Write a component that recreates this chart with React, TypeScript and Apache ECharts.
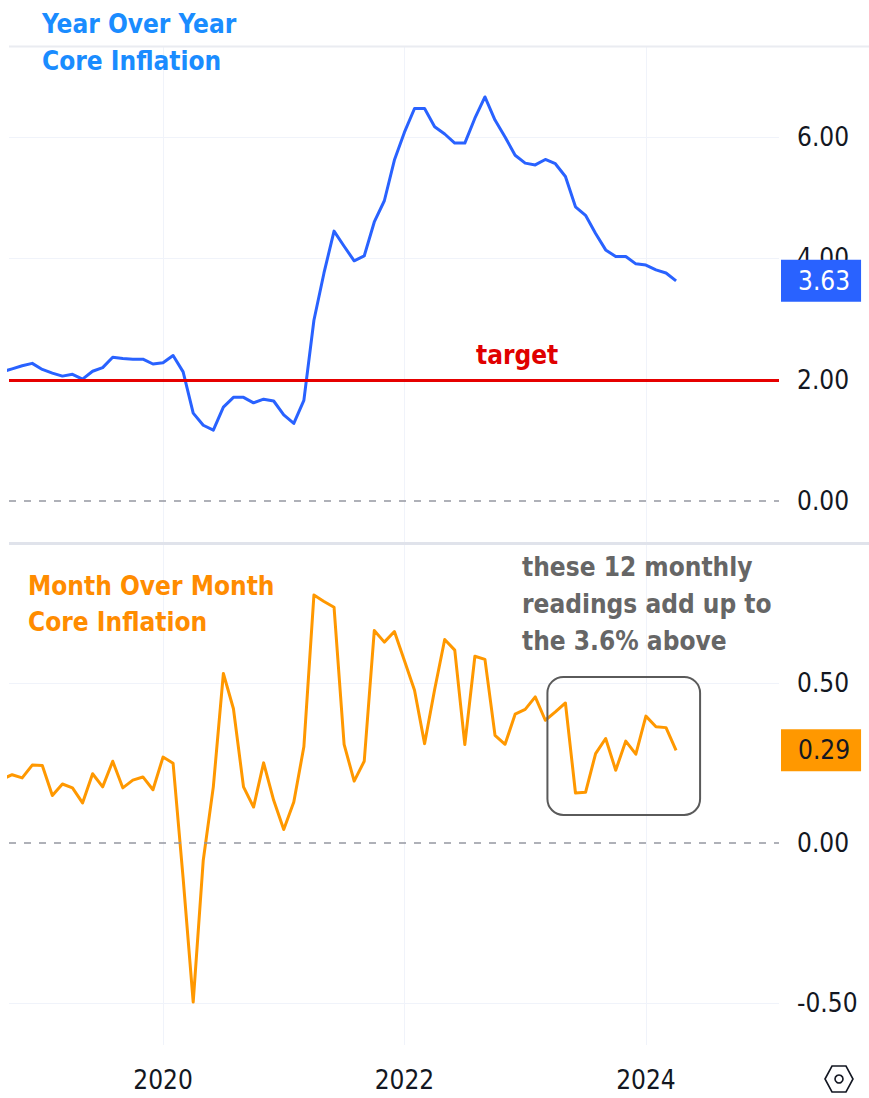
import React, { useEffect, useRef } from "react";
import * as echarts from "echarts";

// ---------- data ----------
const months: string[] = [
  "2018-09", "2018-10", "2018-11", "2018-12",
  "2019-01", "2019-02", "2019-03", "2019-04", "2019-05", "2019-06", "2019-07", "2019-08", "2019-09", "2019-10", "2019-11", "2019-12",
  "2020-01", "2020-02", "2020-03", "2020-04", "2020-05", "2020-06", "2020-07", "2020-08", "2020-09", "2020-10", "2020-11", "2020-12",
  "2021-01", "2021-02", "2021-03", "2021-04", "2021-05", "2021-06", "2021-07", "2021-08", "2021-09", "2021-10", "2021-11", "2021-12",
  "2022-01", "2022-02", "2022-03", "2022-04", "2022-05", "2022-06", "2022-07", "2022-08", "2022-09", "2022-10", "2022-11", "2022-12",
  "2023-01", "2023-02", "2023-03", "2023-04", "2023-05", "2023-06", "2023-07", "2023-08", "2023-09", "2023-10", "2023-11", "2023-12",
  "2024-01", "2024-02", "2024-03", "2024-04",
];

const yoy2018 = [2.13, 2.18, 2.23, 2.27];
const yoy2019 = [2.17, 2.11, 2.06, 2.09, 2.01, 2.14, 2.2, 2.37, 2.35, 2.34, 2.34, 2.26];
const yoy2020 = [2.28, 2.4, 2.13, 1.45, 1.25, 1.17, 1.55, 1.71, 1.71, 1.62, 1.68, 1.65];
const yoy2021 = [1.42, 1.28, 1.66, 2.98, 3.76, 4.45, 4.2, 3.96, 4.04, 4.6, 4.95, 5.62];
const yoy2022 = [6.08, 6.47, 6.47, 6.17, 6.05, 5.9, 5.9, 6.31, 6.66, 6.28, 6.0, 5.7];
const yoy2023 = [5.57, 5.54, 5.63, 5.56, 5.35, 4.85, 4.71, 4.41, 4.14, 4.03, 4.03, 3.91];
const yoy2024 = [3.89, 3.81, 3.76, 3.63];

const mom2018 = [0.2, 0.214, 0.204, 0.244];
const mom2019 = [0.243, 0.149, 0.185, 0.173, 0.126, 0.217, 0.176, 0.256, 0.173, 0.197, 0.207, 0.167];
const mom2020 = [0.269, 0.25, -0.11, -0.496, -0.053, 0.176, 0.53, 0.42, 0.176, 0.113, 0.251, 0.134];
const mom2021 = [0.043, 0.129, 0.301, 0.775, 0.755, 0.737, 0.309, 0.194, 0.256, 0.664, 0.628, 0.661];
const mom2022 = [0.57, 0.478, 0.311, 0.48, 0.636, 0.603, 0.308, 0.584, 0.574, 0.337, 0.309, 0.403];
const mom2023 = [0.418, 0.457, 0.384, 0.41, 0.438, 0.157, 0.159, 0.28, 0.327, 0.228, 0.319, 0.278];
const mom2024 = [0.397, 0.364, 0.361, 0.29];

const yoyValues = [...yoy2018, ...yoy2019, ...yoy2020, ...yoy2021, ...yoy2022, ...yoy2023, ...yoy2024];
const momValues = [...mom2018, ...mom2019, ...mom2020, ...mom2021, ...mom2022, ...mom2023, ...mom2024];

const TARGET = 2.0;
const yearTickLabels = ["2020", "2022", "2024"];
const yoyTickLabels = [0, 2, 4, 6];
const momTickLabels = [-0.5, 0, 0.5];

// ---------- helpers ----------
const monthIndex = (s: string) => {
  const [y, m] = s.split("-").map(Number);
  return (y - 2020) * 12 + (m - 1);
};
const yearTicks = yearTickLabels.map((y) => monthIndex(`${y}-01`));

const FONT = '"DejaVu Sans Condensed", "DejaVu Sans", sans-serif';
const TEXT_DARK = "#131722";
const GRID_COLOR = "#f0f3fa";
const BLUE = "#2962ff";
const ORANGE = "#ff9800";
const CLEAR = "rgba(0,0,0,0)";

const X_MIN = -15.31;
const X_MAX = 61.23;

export default function App() {
  const ref = useRef<HTMLDivElement>(null);

  useEffect(() => {
    if (!ref.current) return;
    const chart = echarts.init(ref.current, undefined, { renderer: "svg" });

    const yoyData = months.map((m, i) => [monthIndex(m), yoyValues[i]]);
    const momData = months.map((m, i) => [monthIndex(m), momValues[i]]);
    const lastYoY = yoyValues[yoyValues.length - 1];
    const lastMoM = momValues[momValues.length - 1];

    const xAxisBase = (i: number) => ({
      type: "value",
      gridIndex: i,
      min: X_MIN,
      max: X_MAX,
      axisLine: { show: false },
      axisTick: { show: false, customValues: yearTicks },
      splitLine: { show: true, lineStyle: { color: GRID_COLOR, width: 1 } },
      axisLabel:
        i === 1
          ? {
              show: true,
              customValues: yearTicks,
              formatter: (v: number) => String(2020 + Math.round(v / 12)),
              fontSize: 26,
              fontFamily: FONT,
              color: TEXT_DARK,
              margin: 22,
            }
          : { show: false },
    });

    const labelStyle = {
      fontSize: 26,
      fontFamily: FONT,
      color: TEXT_DARK,
      margin: 18,
      formatter: (v: number) => v.toFixed(2),
    };

    const badge = (bg: string, fg: string) => ({
      show: true,
      position: "end",
      distance: 2,
      formatter: (p: any) => Number(p.value).toFixed(2),
      backgroundColor: bg,
      color: fg,
      fontSize: 26,
      fontFamily: FONT,
      lineHeight: 26,
      padding: [8, 11, 8, 17],
    });

    const zeroLine = {
      yAxis: 0,
      lineStyle: { color: "#9598a1", width: 1.5, type: [7, 8] },
      label: { show: false },
    };

    const option: any = {
      animation: false,
      backgroundColor: "#ffffff",
      grid: [
        { left: 9, right: 90, top: 46, height: 497 },
        { left: 9, right: 90, top: 543, height: 502 },
      ],
      xAxis: [xAxisBase(0), xAxisBase(1)],
      yAxis: [
        {
          type: "value",
          gridIndex: 0,
          position: "right",
          min: -0.69,
          max: 7.5,
          axisLine: { show: false },
          axisTick: { show: false, customValues: [4, 6] },
          splitLine: { show: true, lineStyle: { color: GRID_COLOR, width: 1 } },
          axisLabel: { ...labelStyle, customValues: yoyTickLabels },
        },
        {
          type: "value",
          gridIndex: 1,
          position: "right",
          min: -0.63,
          max: 0.9375,
          axisLine: { show: false },
          axisTick: { show: false, customValues: [-0.5, 0.5] },
          splitLine: { show: true, lineStyle: { color: GRID_COLOR, width: 1 } },
          axisLabel: { ...labelStyle, customValues: momTickLabels },
        },
      ],
      series: [
        {
          type: "line",
          name: "YoY",
          xAxisIndex: 0,
          yAxisIndex: 0,
          data: yoyData,
          symbol: "none",
          lineStyle: { color: BLUE, width: 3, join: "round" },
          itemStyle: { color: BLUE },
          markLine: {
            silent: true,
            symbol: "none",
            animation: false,
            data: [
              {
                yAxis: TARGET,
                lineStyle: { color: "#e60000", width: 3, type: "solid" },
                label: { show: false },
              },
              zeroLine,
              {
                yAxis: lastYoY,
                lineStyle: { color: CLEAR, width: 1, type: "solid" },
                label: badge(BLUE, "#ffffff"),
              },
            ],
          },
        },
        {
          type: "line",
          name: "MoM",
          xAxisIndex: 1,
          yAxisIndex: 1,
          data: momData,
          symbol: "none",
          lineStyle: { color: ORANGE, width: 3, join: "round" },
          itemStyle: { color: ORANGE },
          markLine: {
            silent: true,
            symbol: "none",
            animation: false,
            data: [
              zeroLine,
              {
                yAxis: lastMoM,
                lineStyle: { color: CLEAR, width: 1, type: "solid" },
                label: badge(ORANGE, TEXT_DARK),
              },
            ],
          },
        },
      ],
    };

    chart.setOption(option);

    // box around the last 12 monthly readings, placed through the chart's scales
    const last12 = momData.slice(-12);
    const px = last12.map((d) => chart.convertToPixel({ gridIndex: 1 }, d) as number[]);
    const xs = px.map((p) => p[0]);
    const ys = px.map((p) => p[1]);
    const boxL = Math.min(...xs) - 18;
    const boxR = Math.max(...xs) + 24;
    const boxT = Math.min(...ys) - 26;
    const boxB = Math.max(...ys) + 22;
    const targetY = (chart.convertToPixel({ yAxisIndex: 0 }, TARGET) as number) - 25;

    const hx = 839;
    const hy = 1079;

    chart.setOption({
      graphic: [
        {
          type: "line",
          id: "topBorder",
          shape: { x1: 9, y1: 46.5, x2: 869, y2: 46.5 },
          style: { stroke: "#eaecf1", lineWidth: 2 },
          z: 1,
        },
        {
          type: "line",
          id: "separator",
          shape: { x1: 9, y1: 543.5, x2: 869, y2: 543.5 },
          style: { stroke: "#e0e3eb", lineWidth: 3 },
          z: 1,
        },
        {
          type: "text",
          id: "title1",
          x: 42,
          y: 42,
          style: {
            text: "Year Over Year\nCore Inflation",
            fill: "#1a8cff",
            fontSize: 26,
            fontWeight: "bold",
            fontFamily: FONT,
            lineHeight: 37,
            verticalAlign: "middle",
          },
          z: 10,
        },
        {
          type: "text",
          id: "title2",
          x: 28,
          y: 604,
          style: {
            text: "Month Over Month\nCore Inflation",
            fill: "#ff8c00",
            fontSize: 26,
            fontWeight: "bold",
            fontFamily: FONT,
            lineHeight: 36,
            verticalAlign: "middle",
          },
          z: 10,
        },
        {
          type: "text",
          id: "note",
          x: 522,
          y: 604,
          style: {
            text: "these 12 monthly\nreadings add up to\nthe 3.6% above",
            fill: "#666666",
            fontSize: 26,
            fontWeight: "bold",
            fontFamily: FONT,
            lineHeight: 37,
            verticalAlign: "middle",
          },
          z: 10,
        },
        {
          type: "text",
          id: "target",
          x: 476,
          y: targetY,
          style: {
            text: "target",
            fill: "#e00000",
            fontSize: 26,
            fontWeight: "bold",
            fontFamily: FONT,
            verticalAlign: "middle",
          },
          z: 10,
        },
        {
          type: "rect",
          id: "box",
          shape: { x: boxL, y: boxT, width: boxR - boxL, height: boxB - boxT, r: 16 },
          style: { fill: "none", stroke: "#5a5a5a", lineWidth: 2 },
          z: 10,
        },
        {
          type: "polygon",
          id: "hex",
          shape: {
            points: [
              [hx - 14, hy],
              [hx - 7, hy - 13],
              [hx + 7, hy - 13],
              [hx + 14, hy],
              [hx + 7, hy + 13],
              [hx - 7, hy + 13],
            ],
          },
          style: { fill: "none", stroke: TEXT_DARK, lineWidth: 1.6 },
          z: 10,
        },
        {
          type: "circle",
          id: "hexDot",
          shape: { cx: hx, cy: hy, r: 4 },
          style: { fill: "none", stroke: TEXT_DARK, lineWidth: 1.6 },
          z: 10,
        },
      ],
    });

    return () => chart.dispose();
  }, []);

  return (
    <div
      style={{
        position: "fixed",
        left: 0,
        top: 0,
        width: 869,
        height: 1098,
        background: "#ffffff",
      }}
    >
      <div ref={ref} style={{ width: 869, height: 1098 }} />
    </div>
  );
}
